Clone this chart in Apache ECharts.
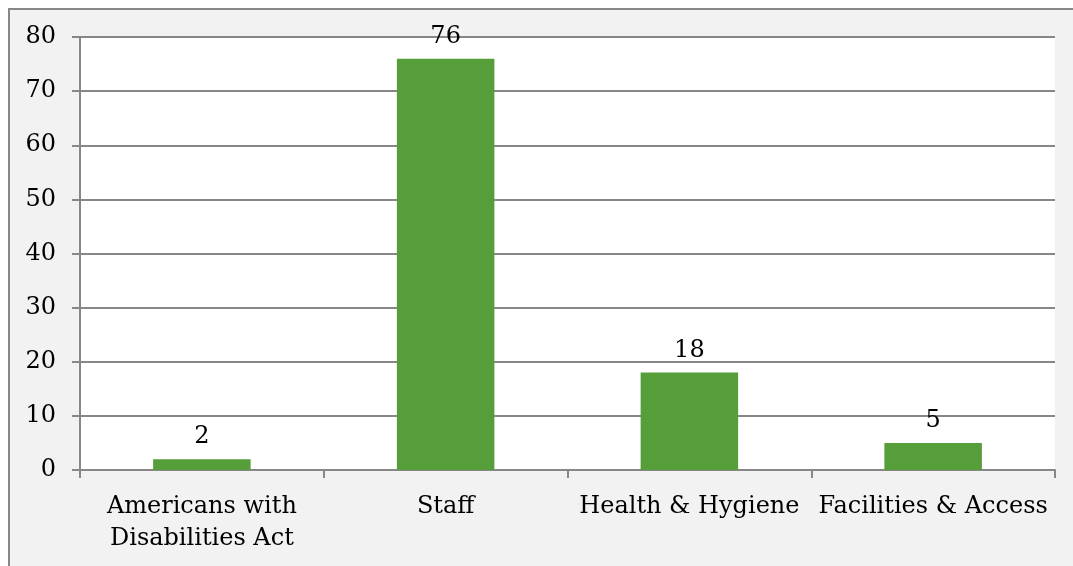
<!DOCTYPE html>
<html><head><meta charset="utf-8">
<script src="https://cdn.jsdelivr.net/npm/echarts@6/dist/echarts.min.js"></script>
<style>html,body{margin:0;padding:0;background:#fff}#c{width:1073px;height:566px}</style>
</head><body><div id="c"></div>
<script>
const categories = ['Americans with\nDisabilities Act', 'Staff', 'Health & Hygiene', 'Facilities & Access'];
const values = [2, 76, 18, 5];
const yTicks = {min: 0, max: 80, interval: 10};

const chart = echarts.init(document.getElementById('c'), null, {renderer: 'canvas'});
const font = 'DejaVu Serif';
chart.setOption({
  animation: false,
  backgroundColor: '#ffffff',
  graphic: [{
    type: 'rect', z: -10, silent: true,
    shape: {x: 9, y: 9, width: 1080, height: 570},
    style: {fill: '#f2f2f2', stroke: '#878787', lineWidth: 2}
  }],
  grid: {left: 80, right: 18, top: 37, bottom: 96, show: true, backgroundColor: '#ffffff', borderWidth: 0},
  xAxis: {
    type: 'category', data: categories,
    axisLine: {show: true, lineStyle: {color: '#878787', width: 2}},
    axisTick: {show: true, length: 8, alignWithLabel: false, lineStyle: {color: '#878787', width: 2}},
    axisLabel: {color: '#000', fontFamily: font, fontSize: 24, lineHeight: 32, margin: 21, interval: 0}
  },
  yAxis: {
    type: 'value', min: yTicks.min, max: yTicks.max, interval: yTicks.interval,
    axisLine: {show: true, lineStyle: {color: '#878787', width: 2}},
    axisTick: {show: true, length: 8, lineStyle: {color: '#878787', width: 2}},
    splitLine: {show: true, lineStyle: {color: '#878787', width: 2}},
    axisLabel: {color: '#000', fontFamily: font, fontSize: 24, margin: 24}
  },
  series: [{
    type: 'bar', data: values, barWidth: '40%',
    itemStyle: {color: '#559e3a'},
    label: {show: true, position: 'top', distance: 10, color: '#000', fontFamily: font, fontSize: 24}
  }]
});
</script></body></html>
